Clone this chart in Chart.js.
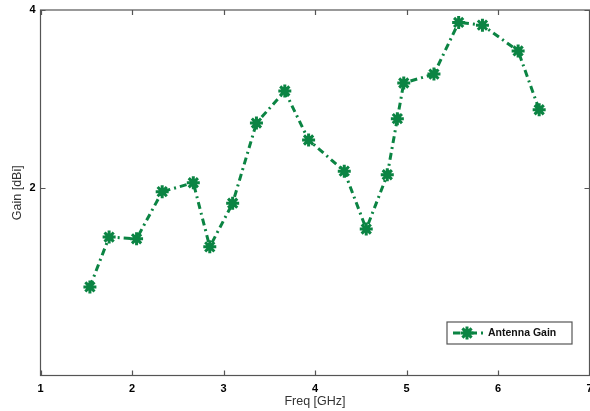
<!DOCTYPE html>
<html>
<head>
<meta charset="utf-8">
<script src="https://cdn.jsdelivr.net/npm/chart.js@4/dist/chart.umd.min.js"></script>
<style>
html,body{margin:0;padding:0;background:#fff;}
#wrap{width:590px;height:411px;}
</style>
</head>
<body>
<div id="wrap"><canvas id="c" width="590" height="411"></canvas></div>
<script>
const freqGHz = [1.54,1.75,2.05,2.33,2.67,2.85,3.10,3.36,3.67,3.93,4.32,4.56,4.79,4.90,4.97,5.30,5.57,5.83,6.22,6.45];
const gainDBi = [0.89,1.45,1.43,1.96,2.06,1.34,1.83,2.73,3.09,2.54,2.19,1.54,2.15,2.78,3.18,3.28,3.86,3.83,3.54,2.88];
const xTicks = [1,2,3,4,5,6,7];
const yTicks = [2,4];
const seriesName = 'Antenna Gain';
const xTitle = 'Freq [GHz]';
const yTitle = 'Gain [dBi]';

const GREEN = '#0b8443';
const AXIS = '#555555';

const points = freqGHz.map((f,i)=>({x:f,y:gainDBi[i]}));

const framePlugin = {
  id:'frame',
  afterDatasetsDraw(chart){
    const {ctx, chartArea:a, scales:{x,y}} = chart;
    ctx.save();
    ctx.strokeStyle = AXIS;
    ctx.lineWidth = 1.2;
    ctx.strokeRect(a.left, a.top, a.right-a.left, a.bottom-a.top);
    ctx.beginPath();
    const L = 5;
    xTicks.forEach(v=>{
      const px = Math.round(x.getPixelForValue(v))+0.5;
      ctx.moveTo(px,a.bottom); ctx.lineTo(px,a.bottom-L);
      ctx.moveTo(px,a.top); ctx.lineTo(px,a.top+L);
    });
    yTicks.forEach(v=>{
      const py = Math.round(y.getPixelForValue(v))+0.5;
      ctx.moveTo(a.left,py); ctx.lineTo(a.left+L,py);
      ctx.moveTo(a.right,py); ctx.lineTo(a.right-L,py);
    });
    ctx.stroke();
    ctx.restore();
  },
  afterDraw(chart){
    const {ctx, chartArea:a} = chart;
    const ds = chart.data.datasets[0];
    const bx = a.right-142.5, by = a.bottom-53.5, bw = 125, bh = 22;
    ctx.save();
    ctx.fillStyle = '#fff';
    ctx.fillRect(bx,by,bw,bh);
    ctx.strokeStyle = AXIS;
    ctx.lineWidth = 1.2;
    ctx.strokeRect(bx,by,bw,bh);
    const cy = by+bh/2;
    ctx.strokeStyle = ds.borderColor;
    ctx.lineWidth = ds.borderWidth;
    ctx.setLineDash(ds.borderDash);
    ctx.beginPath();
    ctx.moveTo(bx+6,cy); ctx.lineTo(bx+36,cy);
    ctx.stroke();
    ctx.setLineDash([]);
    Chart.helpers.drawPoint(ctx,{pointStyle:'star',radius:ds.pointRadius,borderWidth:ds.pointBorderWidth},bx+20,cy);
    ctx.fillStyle = '#111';
    ctx.font = 'bold 10.5px "Liberation Sans", Arial, sans-serif';
    ctx.textBaseline = 'middle';
    ctx.fillText(ds.label, bx+41, cy+0.5);
    ctx.restore();
  }
};

new Chart(document.getElementById('c'),{
  type:'line',
  data:{datasets:[{
    label:seriesName,
    data:points,
    borderColor:GREEN,
    backgroundColor:GREEN,
    borderWidth:3,
    borderDash:[7,4,2,4],
    pointStyle:'star',
    pointRadius:6.5,
    pointBorderWidth:3,
    pointBorderColor:GREEN,
    pointBackgroundColor:GREEN,
    tension:0,
    fill:false
  }]},
  options:{
    responsive:false,
    animation:false,
    devicePixelRatio:1,
    layout:{autoPadding:false,padding:{top:10,right:0.5,left:0,bottom:0}},
    plugins:{legend:{display:false},tooltip:{enabled:false}},
    scales:{
      x:{
        type:'linear',min:1,max:7,
        afterBuildTicks(s){ s.ticks = xTicks.map(v=>({value:v})); },
        afterFit(s){ s.height = 35.5; s.paddingRight = 0; s.paddingLeft = 0; },
        grid:{display:false,drawTicks:false},
        border:{display:false},
        ticks:{color:'#000',padding:7,font:{family:'"Liberation Sans", Arial, sans-serif',size:11,weight:'bold'},maxRotation:0},
        title:{display:true,text:xTitle,color:'#333',padding:{top:0,bottom:2},font:{family:'"Liberation Sans", Arial, sans-serif',size:12.5}}
      },
      y:{
        type:'linear',min:-0.105,max:4,
        afterBuildTicks(s){ s.ticks = yTicks.map(v=>({value:v})); },
        afterFit(s){ s.width = 40.5; s.paddingTop = 0; s.paddingBottom = 0; },
        grid:{display:false,drawTicks:false},
        border:{display:false},
        ticks:{color:'#000',padding:5,font:{family:'"Liberation Sans", Arial, sans-serif',size:11,weight:'bold'}},
        title:{display:true,text:yTitle,color:'#333',padding:{top:10,bottom:0},font:{family:'"Liberation Sans", Arial, sans-serif',size:12.5}}
      }
    }
  },
  plugins:[framePlugin]
});
</script>
</body>
</html>
